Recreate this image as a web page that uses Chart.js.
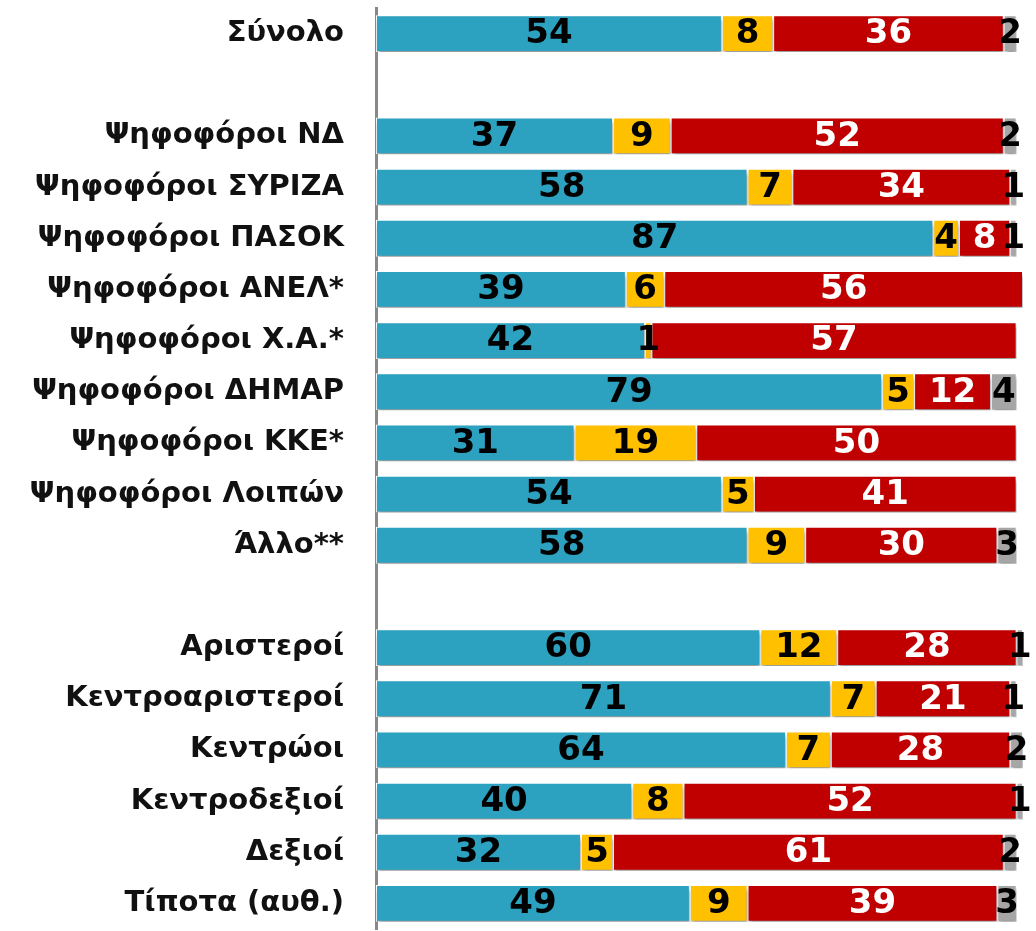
<!DOCTYPE html>
<html>
<head>
<meta charset="utf-8">
<script src="https://cdn.jsdelivr.net/npm/chart.js@4/dist/chart.umd.min.js"></script>
<style>
  html, body { margin: 0; padding: 0; background: #fff; }
  #wrap { width: 1036px; height: 931px; position: relative; }
</style>
</head>
<body>
<div id="wrap"><canvas id="chart"></canvas></div>
<script>
// categories (empty strings are the gaps between groups)
const categories = [
    'Σύνολο', '',
    'Ψηφοφόροι ΝΔ', 'Ψηφοφόροι ΣΥΡΙΖΑ', 'Ψηφοφόροι ΠΑΣΟΚ', 'Ψηφοφόροι ΑΝΕΛ*',
    'Ψηφοφόροι Χ.Α.*', 'Ψηφοφόροι ΔΗΜΑΡ', 'Ψηφοφόροι ΚΚΕ*', 'Ψηφοφόροι Λοιπών', 'Άλλο**', '',
    'Αριστεροί', 'Κεντροαριστεροί', 'Κεντρώοι', 'Κεντροδεξιοί', 'Δεξιοί', 'Τίποτα (αυθ.)'
];

// series values
const blueValues   = [54, null, 37, 58, 87, 39, 42, 79, 31, 54, 58, null, 60, 71, 64, 40, 32, 49];
const yellowValues = [8,  null, 9,  7,  4,  6,  1,  5,  19, 5,  9,  null, 12, 7,  7,  8,  5,  9];
const redValues    = [36, null, 52, 34, 8,  56, 57, 12, 50, 41, 30, null, 28, 21, 28, 52, 61, 39];
const greyValues   = [2,  null, 2,  1,  1,  0,  0,  4,  0,  0,  3,  null, 1,  1,  2,  1,  2,  3];

const colors = {
    blue: '#2ca2c0',
    yellow: '#ffc000',
    red: '#c00000',
    grey: '#a6a6a6'
};

const labelColors = ['#000', '#000', '#fff', '#000'];

// shadow under the bars + value labels inside segments
const barDecor = {
    id: 'barDecor',
    beforeDatasetsDraw(chart) {
        const ctx = chart.ctx;
        ctx.save();
        ctx.shadowColor = 'rgba(0,0,0,0.4)';
        ctx.shadowBlur = 4;
        ctx.shadowOffsetX = 1;
        ctx.shadowOffsetY = 4;
    },
    afterDatasetsDraw(chart) {
        const ctx = chart.ctx;
        ctx.restore();
        ctx.save();
        ctx.font = 'bold 34px "DejaVu Sans", sans-serif';
        ctx.textAlign = 'center';
        ctx.textBaseline = 'middle';
        chart.data.datasets.forEach((ds, i) => {
            const meta = chart.getDatasetMeta(i);
            meta.data.forEach((bar, j) => {
                const v = ds.data[j];
                if (!v) return;
                const p = bar.getProps(['x', 'y', 'base'], true);
                ctx.fillStyle = labelColors[i];
                ctx.fillText(String(v), (p.x + p.base) / 2, p.y + 1);
            });
        });
        ctx.restore();
    }
};

function makeSet(label, data, color) {
    return {
        label: label,
        data: data,
        backgroundColor: color,
        borderColor: '#fff',
        borderWidth: 1,
        borderSkipped: false,
        barPercentage: 0.72,
        categoryPercentage: 1
    };
}

new Chart(document.getElementById('chart'), {
    type: 'bar',
    data: {
        labels: categories,
        datasets: [
            makeSet('blue', blueValues, colors.blue),
            makeSet('yellow', yellowValues, colors.yellow),
            makeSet('red', redValues, colors.red),
            makeSet('grey', greyValues, colors.grey)
        ]
    },
    options: {
        indexAxis: 'y',
        responsive: true,
        maintainAspectRatio: false,
        devicePixelRatio: 1,
        animation: false,
        layout: { padding: { top: 8, bottom: 2, right: 13, left: 0 } },
        plugins: {
            legend: { display: false },
            tooltip: { enabled: false }
        },
        scales: {
            x: {
                stacked: true,
                min: 0,
                max: 101,
                display: false
            },
            y: {
                stacked: true,
                grid: { display: false, drawTicks: false },
                border: { display: true, color: '#888', width: 3 },
                ticks: {
                    padding: 32,
                    color: '#111',
                    font: { family: '"DejaVu Sans", sans-serif', weight: 'bold', size: 29 }
                },
                afterFit(scale) {
                    scale.width = 376;
                    scale.paddingTop = 0;
                    scale.paddingBottom = 0;
                }
            }
        }
    },
    plugins: [barDecor]
});
</script>
</body>
</html>
